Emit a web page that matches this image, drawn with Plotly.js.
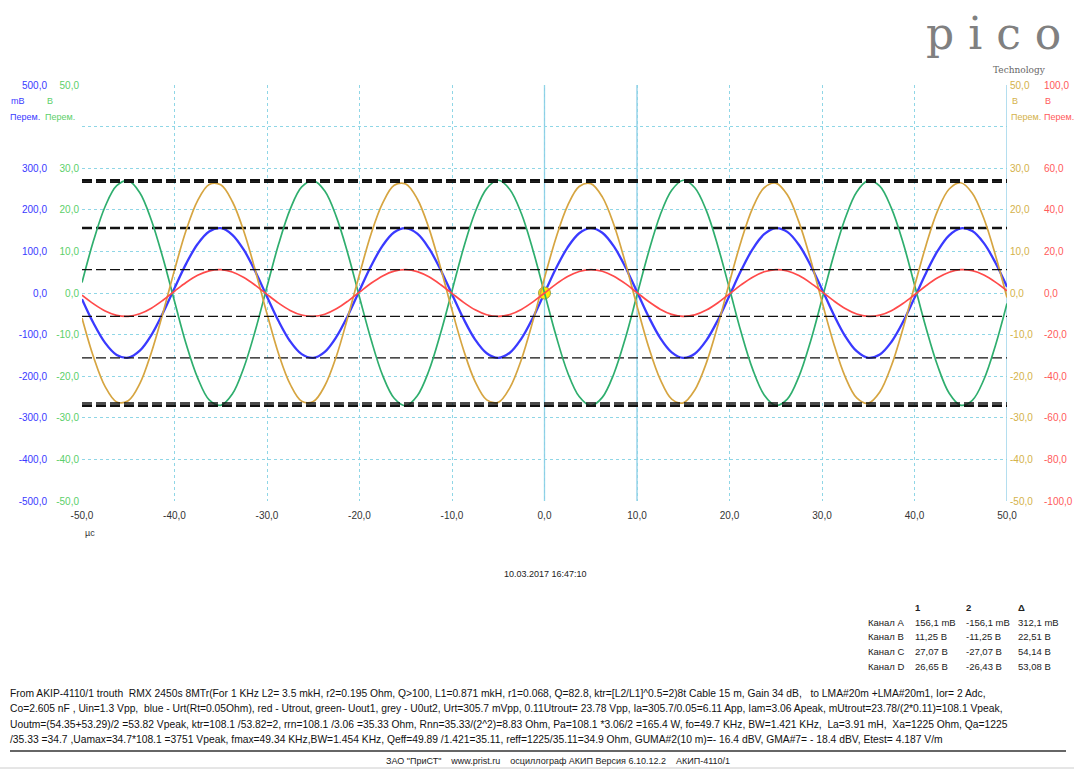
<!DOCTYPE html>
<html><head><meta charset="utf-8">
<script src="https://cdn.plot.ly/plotly-3.0.1.min.js"></script>
<style>html,body{margin:0;padding:0;background:#fff}#chart{width:1074px;height:769px}</style>
</head><body><div id="chart"></div>
<script>
// ---- data ----
const times = [-50,-48.75,-47.5,-46.25,-45,-43.75,-42.5,-41.25,-40,-38.75,-37.5,-36.25,-35,-33.75,-32.5,-31.25,-30,-28.75,-27.5,-26.25,-25,-23.75,-22.5,-21.25,-20,-18.75,-17.5,-16.25,-15,-13.75,-12.5,-11.25,-10,-8.75,-7.5,-6.25,-5,-3.75,-2.5,-1.25,0,1.25,2.5,3.75,5,6.25,7.5,8.75,10,11.25,12.5,13.75,15,16.25,17.5,18.75,20,21.25,22.5,23.75,25,26.25,27.5,28.75,30,31.25,32.5,33.75,35,36.25,37.5,38.75,40,41.25,42.5,43.75,45,46.25,47.5,48.75,50];
// Channel A (blue, mV)
const chanA = [-14.7,-72.7,-119.8,-148.8,-155.4,-138.7,-101.1,-48.3,11.7,70.1,117.8,147.9,155.7,140.0,103.4,51.1,-8.8,-67.4,-115.9,-146.9,-155.8,-141.3,-105.5,-53.9,5.9,64.8,113.9,145.9,155.9,142.5,107.7,56.6,-2.9,-62.1,-111.9,-144.8,-156.0,-143.7,-109.8,-59.4,0,59.4,109.8,143.7,156.0,144.8,111.9,62.1,2.9,-56.6,-107.7,-142.5,-155.9,-145.9,-113.9,-64.8,-5.9,53.9,105.5,141.3,155.8,146.9,115.9,67.4,8.8,-51.1,-103.4,-140.0,-155.7,-147.9,-117.8,-70.1,-11.7,48.3,101.1,138.7,155.4,148.8,119.8,72.7,14.7];
// Channel B (red, V)
const chanB = [-1.06,-5.24,-8.64,-10.73,-11.21,-10.00,-7.29,-3.49,0.85,5.05,8.50,10.66,11.23,10.10,7.45,3.69,-0.64,-4.86,-8.36,-10.59,-11.24,-10.19,-7.61,-3.89,0.42,4.67,8.21,10.52,11.25,10.28,7.76,4.08,-0.21,-4.48,-8.07,-10.44,-11.25,-10.36,-7.92,-4.28,0,4.28,7.92,10.36,11.25,10.44,8.07,4.48,0.21,-4.08,-7.76,-10.28,-11.25,-10.52,-8.21,-4.67,-0.42,3.89,7.61,10.19,11.24,10.59,8.36,4.86,0.64,-3.69,-7.45,-10.10,-11.23,-10.66,-8.50,-5.05,-0.85,3.49,7.29,10.00,11.21,10.73,8.64,5.24,1.06];
// Channel C (green, V)
const chanC = [2.5,12.6,20.8,25.8,27.0,24.1,17.5,8.4,-2.0,-12.2,-20.4,-25.7,-27.0,-24.3,-17.9,-8.9,1.5,11.7,20.1,25.5,27.0,24.5,18.3,9.4,-1.0,-11.2,-19.8,-25.3,-27.1,-24.7,-18.7,-9.8,0.5,10.8,19.4,25.1,27.1,24.9,19.1,10.3,0,-10.3,-19.1,-24.9,-27.1,-25.1,-19.4,-10.8,-0.5,9.8,18.7,24.7,27.1,25.3,19.8,11.2,1.0,-9.4,-18.3,-24.5,-27.0,-25.5,-20.1,-11.7,-1.5,8.9,17.9,24.3,27.0,25.7,20.4,12.2,2.0,-8.4,-17.5,-24.1,-27.0,-25.8,-20.8,-12.6,-2.5];
// Channel D (gold, V)
const chanD = [-6.0,-15.4,-22.5,-26.2,-25.9,-21.8,-14.3,-4.8,5.5,15.0,22.2,26.1,26.0,22.0,14.8,5.3,-5.0,-14.6,-21.9,-26.0,-26.1,-22.3,-15.2,-5.7,4.5,14.2,21.6,25.9,26.2,22.6,15.6,6.2,-4.1,-13.7,-21.3,-25.7,-26.3,-22.8,-16.0,-6.7,3.6,13.3,21.0,25.6,26.3,23.1,16.4,7.2,-3.1,-12.9,-20.7,-25.5,-26.4,-23.3,-16.8,-7.7,2.6,12.4,20.4,25.3,26.4,23.6,17.1,8.2,-2.1,-12.0,-20.1,-25.2,-26.5,-23.8,-17.5,-8.6,1.6,11.5,19.8,25.0,26.5,24.0,17.9,9.1,-1.1];

// cursor levels
const cursorA = [156.1, -156.1];
const cursorB = [11.25, -11.25];
const cursorC = [27.07, -27.07];
const cursorD = [26.65, -26.43];
const timeCursors = [0, 10];
const triggerPoint = [0, 0];

// tick labels
const xTickVals = [-50,-40,-30,-20,-10,0,10,20,30,40,50];
const xTickText = ["-50,0","-40,0","-30,0","-20,0","-10,0","0,0","10,0","20,0","30,0","40,0","50,0"];
const aTickVals = [-500,-400,-300,-200,-100,0,100,200,300,400,500];
const aTickText = ["-500,0","-400,0","-300,0","-200,0","-100,0","0,0","100,0","200,0","300,0","","500,0"];
const cTickVals = [-50,-40,-30,-20,-10,0,10,20,30,40,50];
const cTickText = ["-50,0","-40,0","-30,0","-20,0","-10,0","0,0","10,0","20,0","30,0","","50,0"];
const bTickVals = [-100,-80,-60,-40,-20,0,20,40,60,80,100];
const bTickText = ["-100,0","-80,0","-60,0","-40,0","-20,0","0,0","20,0","40,0","60,0","","100,0"];

// cursor table
const tableHead = ["1","2","Δ"];
const tableRows = ["Канал A","Канал B","Канал C","Канал D"];
const tableCol1 = ["156,1 mВ","11,25 В","27,07 В","26,65 В"];
const tableCol2 = ["-156,1 mВ","-11,25 В","-27,07 В","-26,43 В"];
const tableCol3 = ["312,1 mВ","22,51 В","54,14 В","53,08 В"];

const infoLines = [
 "From AKIP-4110/1 trouth  RMX 2450s 8MTr(For 1 KHz L2= 3.5 mkH, r2=0.195 Ohm, Q>100, L1=0.871 mkH, r1=0.068, Q=82.8, ktr=[L2/L1]^0.5=2)8t Cable 15 m, Gain 34 dB,   to LMA#20m +LMA#20m1, Ior= 2 Adc,",
 "Co=2.605 nF , Uin=1.3 Vpp,  blue - Urt(Rt=0.05Ohm), red - Utrout, green- Uout1, grey - U0ut2, Urt=305.7 mVpp, 0.11Utrout= 23.78 Vpp, Ia=305.7/0.05=6.11 App, Iam=3.06 Apeak, mUtrout=23.78/(2*0.11)=108.1 Vpeak,",
 "Uoutm=(54.35+53.29)/2 =53.82 Vpeak, ktr=108.1 /53.82=2, rrn=108.1 /3.06 =35.33 Ohm, Rnn=35.33/(2^2)=8.83 Ohm, Pa=108.1 *3.06/2 =165.4 W, fo=49.7 KHz, BW=1.421 KHz,  La=3.91 mH,  Xa=1225 Ohm, Qa=1225",
 "/35.33 =34.7 ,Uamax=34.7*108.1 =3751 Vpeak, fmax=49.34 KHz,BW=1.454 KHz, Qeff=49.89 /1.421=35.11, reff=1225/35.11=34.9 Ohm, GUMA#2(10 m)=- 16.4 dBV, GMA#7= - 18.4 dBV, Etest= 4.187 V/m"
];
const dateText = "10.03.2017 16:47:10";
const footerText = 'ЗАО "ПриСТ"    www.prist.ru    осциллограф АКИП Версия 6.10.12.2    АКИП-4110/1';

// ---- styling / layout ----
const W = 1074, H = 769;
const L = 82, R = 1007, T = 85, B = 501;
const px = x => (x - L) / (R - L);
const py = y => (B - y) / (B - T);
const BLUE = '#3a3aff', RED = '#ff4a4a', GREEN = '#2fae6e', GOLD = '#d6a541';
const BLUE_T = '#3a3aff', GREEN_T = '#5ccf6a', GOLD_T = '#d4b24a', RED_T = '#ff5a5a';
const FONT = 'Liberation Sans, Arial, sans-serif';

const traces = [];
function wave(y, color, axis, w) {
  traces.push({x: times, y: y, yaxis: axis, type: 'scatter', mode: 'lines',
    line: {color: color, width: w, shape: 'spline', smoothing: 1.0}, hoverinfo: 'skip'});
}
function cursorLine(v, axis, w) {
  traces.push({x: [xTickVals[0], xTickVals[xTickVals.length-1]], y: [v, v], yaxis: axis, type: 'scatter', mode: 'lines',
    line: {color: '#111', width: w, dash: '10px,4px'}, hoverinfo: 'skip'});
}
wave(chanD, GOLD, 'y3', 1.7);
wave(chanC, GREEN, 'y2', 1.7);
wave(chanB, RED, 'y4', 1.7);
wave(chanA, BLUE, 'y', 2.3);
cursorLine(cursorC[0], 'y2', 2.6); cursorLine(cursorC[1], 'y2', 2.6);
cursorLine(cursorD[0], 'y3', 1.6); cursorLine(cursorD[1], 'y3', 1.6);
cursorLine(cursorA[0], 'y', 2.4); cursorLine(cursorA[1], 'y', 1.3);
cursorLine(cursorB[0], 'y4', 1.4); cursorLine(cursorB[1], 'y4', 1.4);

// cursor handles (outside plot area)
function handle(xpix, vals, axis, color) {
  const xd = -50 + (xpix - L) / (R - L) * 100;
  traces.push({x: vals.map(() => xd), y: vals, yaxis: axis, type: 'scatter', mode: 'markers', cliponaxis: false,
    marker: {symbol: 'square', size: 7, color: color, line: {color: '#333', width: 1.2}}, hoverinfo: 'skip'});
}
handle(50, cursorC, 'y2', '#1f9a55');
handle(15, cursorA, 'y', '#2020d0');
handle(1037, cursorD, 'y3', '#c9a030');
handle(1068, cursorB, 'y4', '#d02020');
// trigger point
traces.push({x: [triggerPoint[0]], y: [triggerPoint[1]], yaxis: 'y', type: 'scatter', mode: 'markers', cliponaxis: false,
  marker: {size: 12, color: '#ffee00', line: {color: '#a8a040', width: 1}}, hoverinfo: 'skip'});

const gridCol = '#8fd6e6';
const tickFont = c => ({family: FONT, size: 10, color: c});

const shapes = timeCursors.concat([xTickVals[xTickVals.length-1]]).map(t => ({
  type: 'line', xref: 'x', yref: 'paper', x0: t, x1: t, y0: 0, y1: 1,
  line: {color: '#8ccde6', width: 1.3}, layer: 'below'}));
// footer rule
shapes.push({type: 'line', xref: 'paper', yref: 'paper', x0: px(10), x1: px(1066), y0: py(751), y1: py(751), line: {color: '#333', width: 1.5}});
shapes.push({type: 'line', xref: 'paper', yref: 'paper', x0: px(0), x1: px(1074), y0: py(768), y1: py(768), line: {color: '#ccc', width: 1}});

const ann = [];
function txt(text, x, y, opts) {
  ann.push(Object.assign({text: text, xref: 'paper', yref: 'paper', x: px(x), y: py(y), showarrow: false,
    xanchor: 'left', yanchor: 'middle', font: {family: FONT, size: 9, color: '#222'}}, opts || {}));
}
// axis unit labels
txt('mВ', 9, 101, {font: {family: FONT, size: 9, color: BLUE_T}});
txt('Перем.', 8, 117, {font: {family: FONT, size: 9, color: BLUE_T}});
txt('В', 45, 101, {font: {family: FONT, size: 9, color: GREEN_T}});
txt('Перем.', 43, 117, {font: {family: FONT, size: 9, color: GREEN_T}});
txt('В', 1010, 101, {font: {family: FONT, size: 9, color: GOLD_T}});
txt('Перем.', 1009, 117, {font: {family: FONT, size: 9, color: GOLD_T}});
txt('В', 1043, 101, {font: {family: FONT, size: 9, color: RED_T}});
txt('Перем.', 1042, 117, {font: {family: FONT, size: 9, color: RED_T}});
txt('µс', 83, 533, {font: {family: FONT, size: 9, color: '#333'}});
txt(dateText, 545, 574, {xanchor: 'center', font: {family: FONT, size: 9, color: '#222'}});
// table
const colX = [913, 964, 1016];
const tFont = {family: FONT, size: 9.5, color: '#222'};
tableHead.forEach((h, i) => txt('<b>' + h + '</b>', colX[i], 607, {font: tFont}));
tableRows.forEach((r, j) => {
  const y = 622 + j * 14.7;
  txt(r, 866, y, {font: tFont});
  txt(tableCol1[j], colX[0], y, {font: tFont});
  txt(tableCol2[j], colX[1], y, {font: tFont});
  txt(tableCol3[j], colX[2], y, {font: tFont});
});
infoLines.forEach((s, j) => txt(s, 8, 693 + j * 15.5, {font: {family: FONT, size: 10.3, color: '#111'}}));
txt(footerText, 384, 761, {font: {family: FONT, size: 9, color: '#222'}});
// logo
txt('p i c o', 993, 33, {xanchor: 'center', font: {family: 'DejaVu Serif, serif', size: 44, color: '#808080'}});
txt('Technology', 1019, 70, {xanchor: 'center', font: {family: 'DejaVu Serif, serif', size: 9, color: '#666'}});

const layout = {
  width: W, height: H, paper_bgcolor: '#fff', plot_bgcolor: '#fff', showlegend: false,
  margin: {l: L, r: W - R, t: T, b: H - B, pad: 0},
  xaxis: {range: [-50, 50], tickmode: 'array', tickvals: xTickVals, ticktext: xTickText, showgrid: true,
    gridcolor: gridCol, griddash: 'dot', gridwidth: 1, zeroline: false, showline: false, ticks: '',
    tickfont: tickFont('#333'), ticklabelstandoff: 7},
  yaxis: {range: [-500, 500], tickmode: 'array', tickvals: aTickVals, ticktext: aTickText, showgrid: true,
    gridcolor: gridCol, griddash: 'dot', gridwidth: 1, zeroline: false, showline: false, ticks: '',
    tickfont: tickFont(BLUE_T), side: 'left', ticklabelstandoff: 34},
  yaxis2: {range: [-50, 50], overlaying: 'y', side: 'left', anchor: 'x', tickmode: 'array', tickvals: cTickVals, ticktext: cTickText,
    showgrid: false, zeroline: false, showline: false, ticks: '', tickfont: tickFont(GREEN_T), ticklabelstandoff: 2},
  yaxis3: {range: [-50, 50], overlaying: 'y', side: 'right', anchor: 'x', tickmode: 'array', tickvals: cTickVals, ticktext: cTickText,
    showgrid: false, zeroline: false, showline: false, ticks: '', tickfont: tickFont(GOLD_T), ticklabelstandoff: 2},
  yaxis4: {range: [-100, 100], overlaying: 'y', side: 'right', anchor: 'x', tickmode: 'array', tickvals: bTickVals, ticktext: bTickText,
    showgrid: false, zeroline: false, showline: false, ticks: '', tickfont: tickFont(RED_T), ticklabelstandoff: 36},
  shapes: shapes, annotations: ann
};
Plotly.newPlot('chart', traces, layout, {staticPlot: true, displayModeBar: false});
</script></body></html>
